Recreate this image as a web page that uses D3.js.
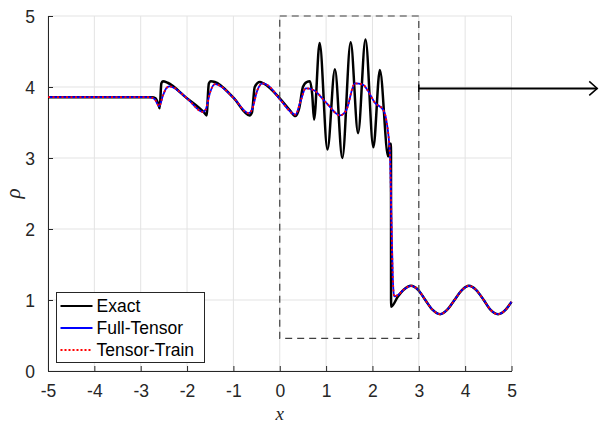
<!DOCTYPE html>
<html><head><meta charset="utf-8">
<script src="https://cdn.jsdelivr.net/npm/d3@7"></script>
<style>body{margin:0;background:#fff}svg{display:block}</style>
</head><body>
<svg id="c" width="599" height="428"></svg>
<script>
// ---- data ----
const xTicks = [-5,-4,-3,-2,-1,0,1,2,3,4,5];
const yTicks = [0,1,2,3,4,5];
const seriesNames = ["Exact","Full-Tensor","Tensor-Train"];

const exactX = [-5,-2.76,-2.68,-2.62,-2.59,-2.555,-2.52,-2.42,-2.02,-1.62,-1.58,-1.53,-1.49,-1.40,-1.0,-0.65,-0.60,-0.54,-0.43,-0.35,0,0.22,0.34,0.42,0.50,0.58,0.65,0.70,0.74,0.86,1.03,1.19,1.35,1.53,1.69,1.85,2.02,2.16,2.34,2.37,2.40,2.402,2.55,2.68,2.83,2.99,3.14,3.30,3.46,3.61,3.77,3.93,4.08,4.24,4.40,4.55,4.71,4.87,5.0];
const exactRho = [3.857,3.857,3.84,3.76,3.70,4.05,4.08,4.06,3.85,3.63,3.60,4.05,4.08,4.07,3.85,3.60,3.64,4.00,4.07,4.05,3.84,3.67,3.59,3.70,4.00,4.07,4.08,3.90,3.54,4.62,3.12,4.25,3.00,4.63,3.35,4.67,3.15,4.24,3.02,3.20,3.20,0.905,1.05,1.148,1.2,1.14,1.0,0.86,0.8,0.86,1.0,1.14,1.2,1.14,1.0,0.86,0.8,0.86,0.974];

const numX = [-5,-2.82,-2.70,-2.60,-2.52,-2.45,-2.38,-2.0,-1.66,-1.60,-1.50,-1.40,-1.30,-1.0,-0.67,-0.60,-0.48,-0.37,-0.25,0,0.34,0.45,0.56,0.72,1.0,1.30,1.44,1.62,1.80,1.90,2.05,2.23,2.30,2.38,2.41,2.44,2.47,2.55,2.68,2.83,2.99,3.14,3.30,3.46,3.61,3.77,3.93,4.08,4.24,4.40,4.55,4.71,4.87,5.0];
const fullTensorRho = [3.857,3.857,3.83,3.73,3.88,3.98,4.01,3.84,3.65,3.68,3.93,4.04,4.02,3.85,3.63,3.68,3.96,4.05,4.02,3.83,3.61,3.80,3.98,3.96,3.78,3.60,3.68,4.05,4.03,3.95,3.78,3.68,3.53,3.01,2.10,1.30,1.05,1.07,1.148,1.2,1.14,1.0,0.86,0.8,0.86,1.0,1.14,1.2,1.14,1.0,0.86,0.8,0.86,0.974];
const tensorTrainRho = [3.857,3.857,3.83,3.73,3.88,3.98,4.01,3.84,3.65,3.68,3.93,4.04,4.02,3.85,3.63,3.68,3.96,4.05,4.02,3.83,3.61,3.80,3.98,3.96,3.78,3.60,3.68,4.05,4.03,3.95,3.78,3.68,3.53,3.01,2.10,1.30,1.05,1.07,1.148,1.2,1.14,1.0,0.86,0.8,0.86,1.0,1.14,1.2,1.14,1.0,0.86,0.8,0.86,0.974];

const zoomBoxX = [0,3];
const zoomBoxY = [0.46,5];
const arrowX = [3,6.85];
const arrowY = 3.98;

// ---- drawing ----
const svg = d3.select("#c");
const L=48, R=511.5, T=16, B=371;
const x = d3.scaleLinear().domain([-5,5]).range([L,R]);
const y = d3.scaleLinear().domain([0,5]).range([B,T]);
const font = "'Liberation Sans', Arial, sans-serif";

// grid
const g = svg.append("g");
g.selectAll(".gx").data(xTicks).join("line")
  .attr("x1",d=>x(d)).attr("x2",d=>x(d)).attr("y1",T).attr("y2",B)
  .attr("stroke","#e3e3e3").attr("stroke-width",1);
g.selectAll(".gy").data(yTicks).join("line")
  .attr("y1",d=>y(d)).attr("y2",d=>y(d)).attr("x1",L).attr("x2",R)
  .attr("stroke","#e3e3e3").attr("stroke-width",1);

// axes
const xAxis = d3.axisBottom(x).tickValues(xTicks).tickSizeInner(-5).tickSizeOuter(0).tickPadding(14)
  .tickFormat(d=>String(d).replace("−","-"));
const yAxis = d3.axisLeft(y).tickValues(yTicks).tickSizeInner(-5).tickSizeOuter(0).tickPadding(13)
  .tickFormat(d=>String(d));
const ax = svg.append("g").attr("transform",`translate(0,${B})`).call(xAxis);
const ay = svg.append("g").attr("transform",`translate(${L},0)`).call(yAxis);
[ax,ay].forEach(a=>{
  a.select(".domain").attr("stroke","#262626").attr("stroke-width",1);
  a.selectAll(".tick line").attr("stroke","#262626");
  a.selectAll(".tick text").attr("fill","#262626").style("font-family",font).style("font-size","17.5px");
});
ay.selectAll(".tick text").attr("dy","0.36em");

// lines
const clipId="clp";
svg.append("clipPath").attr("id",clipId).append("rect").attr("x",L).attr("y",T-2).attr("width",R-L+2).attr("height",B-T+4);
const line = d3.line().x(d=>x(d[0])).y(d=>y(d[1])).curve(d3.curveMonotoneX);
const lg = svg.append("g").attr("clip-path",`url(#${clipId})`);
lg.append("path").attr("d",line(exactX.map((v,i)=>[v,exactRho[i]])))
  .attr("fill","none").attr("stroke","#000").attr("stroke-width",2.5).attr("stroke-linejoin","round");
lg.append("path").attr("d",line(numX.map((v,i)=>[v,fullTensorRho[i]])))
  .attr("fill","none").attr("stroke","#0000ff").attr("stroke-width",1.8);
lg.append("path").attr("d",line(numX.map((v,i)=>[v,tensorTrainRho[i]])))
  .attr("fill","none").attr("stroke","#ff0000").attr("stroke-width",1.8).attr("stroke-dasharray","2,2.5");

// zoom box
svg.append("rect").attr("x",x(zoomBoxX[0])).attr("y",y(zoomBoxY[1]))
  .attr("width",x(zoomBoxX[1])-x(zoomBoxX[0])).attr("height",y(zoomBoxY[0])-y(zoomBoxY[1]))
  .attr("fill","none").attr("stroke","#404040").attr("stroke-width",1.2).attr("stroke-dasharray","7,5");

// arrow
const ax0=x(arrowX[0]), ax1=x(arrowX[1]), ayy=y(arrowY);
svg.append("line").attr("x1",ax0).attr("x2",ax1).attr("y1",ayy).attr("y2",ayy)
  .attr("stroke","#000").attr("stroke-width",2);
svg.append("path").attr("d",`M${ax1-8},${ayy-7} L${ax1},${ayy} L${ax1-8},${ayy+7}`)
  .attr("fill","none").attr("stroke","#000").attr("stroke-width",1.5);
svg.append("line").attr("x1",ax0).attr("x2",ax0).attr("y1",ayy-4).attr("y2",ayy+4)
  .attr("stroke","#000").attr("stroke-width",1.5);

// legend
const lgX=56.5, lgY=292.5, lgW=148, lgH=70;
const leg = svg.append("g");
leg.append("rect").attr("x",lgX).attr("y",lgY).attr("width",lgW).attr("height",lgH)
  .attr("fill","#fff").attr("stroke","#262626").attr("stroke-width",1);
const styles=[{c:"#000",w:2.2,d:null},{c:"#0000ff",w:1.8,d:null},{c:"#ff0000",w:1.8,d:"2,2"}];
seriesNames.forEach((n,i)=>{
  const yy = lgY+13.5+i*22;
  const s=styles[i];
  const l=leg.append("line").attr("x1",60.5).attr("x2",92.5).attr("y1",yy).attr("y2",yy)
    .attr("stroke",s.c).attr("stroke-width",s.w);
  if(s.d) l.attr("stroke-dasharray",s.d);
  leg.append("text").attr("x",96.5).attr("y",yy+6).text(n)
    .style("font-family",font).style("font-size","17.5px").attr("fill","#000");
});

// axis labels
svg.append("text").attr("x",(L+R)/2).attr("y",420).attr("text-anchor","middle")
  .style("font-family","'Liberation Serif','Times New Roman',serif").style("font-style","italic").style("font-size","19px")
  .attr("fill","#262626").text("x");
svg.append("text").attr("transform",`translate(20,${(T+B)/2}) rotate(-90)`).attr("text-anchor","middle")
  .style("font-family","'Liberation Serif','Times New Roman',serif").style("font-style","italic").style("font-size","21px")
  .attr("fill","#262626").text("ρ");
</script>
</body></html>
